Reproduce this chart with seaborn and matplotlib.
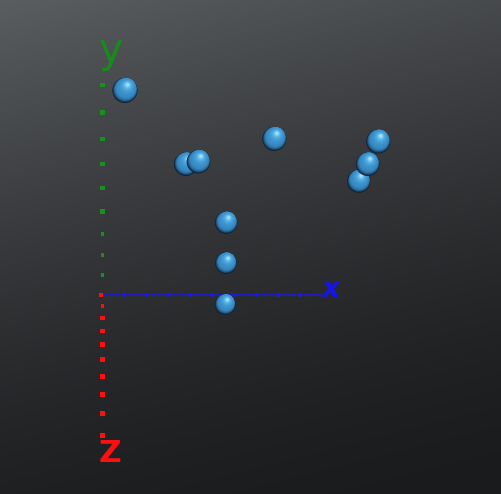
import numpy as np
import pandas as pd
import matplotlib
matplotlib.use("Agg")
import matplotlib.pyplot as plt
import seaborn as sns
from matplotlib.colors import LinearSegmentedColormap, to_hex

# ---------------- data (3D scatter points) ----------------
point_x = [0.9, 3.4, 3.9, 6.8, 10.9, 10.7, 10.5, 5.3, 5.5, 5.7]
point_y = [8.8, 6.0, 6.1, 7.0, 6.9, 6.0, 5.3, 3.5, 1.6, -0.5]
point_z = [0.0, 0.0, 0.0, 0.0, 0.0, 0.0, 0.0, 0.0, 0.0, 0.0]
axis_ticks = [1, 2, 3, 4, 5, 6, 7, 8, 9]
axis_length = 10
axis_names = ["x", "y", "Z"]

# ---------------- camera (perspective, looking slightly downward) ----------------
W, H = 502, 494
theta = np.radians(29.0)
dist = 24.8
focal = 545.6
origin_px = (101.0, 295.0)
cam = dist * np.array([0.0, np.sin(theta), np.cos(theta)])
fwd = -np.array([0.0, np.sin(theta), np.cos(theta)])
upv = np.array([0.0, np.cos(theta), -np.sin(theta)])


def project(x, y, z):
    P = np.stack([np.asarray(x, float), np.asarray(y, float), np.asarray(z, float)], -1) - cam
    depth = P @ fwd
    sx = origin_px[0] + focal * P[..., 0] / depth
    sy = origin_px[1] - focal * (P @ upv) / depth
    return sx, sy, depth


def px_to_s(diam_px):
    return (diam_px * 72.0 / 100.0) ** 2


# ---------------- figure ----------------
fig = plt.figure(figsize=(W / 100, H / 100), dpi=100)
ax = fig.add_axes([0, 0, 1, 1])
ax.set_xlim(0, W)
ax.set_ylim(H, 0)
ax.axis("off")

# background gradient
gx, gy = np.meshgrid(np.arange(W), np.arange(H))
g = np.clip((gy + 0.25 * gx) / (H + 0.25 * W), 0, 1)
w = (1 - g) ** 1.6
top = np.array([91, 94, 97]) / 255
bot = np.array([26, 27, 29]) / 255
bg = bot + (top - bot) * w[..., None]
ax.imshow(bg, extent=(0, W, H, 0), aspect="auto", zorder=0, interpolation="bilinear")

# ---------------- axes ----------------
zeros = np.zeros(len(axis_ticks))
ticks = np.array(axis_ticks, float)

# x axis line
lx, ly, _ = project([0, axis_length], [0, 0], [0, 0])
sns.lineplot(x=lx, y=ly, sort=False, color="#1a1ae0", linewidth=1.1, ax=ax, zorder=2)

tick_size = 0.17 * focal
for (tx, ty, tz), col in [((ticks, zeros, zeros), "#1a1ae8"),
                          ((zeros, ticks, zeros), "#1a901c"),
                          ((zeros, zeros, ticks), "#ff1010")]:
    sx, sy, d = project(tx, ty, tz)
    sns.scatterplot(x=sx + 1.5, y=sy, s=px_to_s(tick_size / d), color=col, marker="s",
                    linewidth=0, ax=ax, zorder=3, legend=False)

ox, oy, od = project([0], [0], [0])
sns.scatterplot(x=ox + 0.5, y=oy, s=px_to_s(3.2), color="#ff1010", marker="s", linewidth=0,
                ax=ax, zorder=3, legend=False)

# axis names
nx, ny, _ = project([axis_length], [0], [0])
ax.text(nx[0] + 0.5, ny[0] + 2, axis_names[0], color="#1414ee", fontsize=20.5,
        fontstyle="italic", fontweight="bold", ha="left", va="baseline", zorder=4)
nx, ny, _ = project([0], [axis_length], [0])
ax.text(nx[0] - 2.5, ny[0] + 6, axis_names[1], color="#178c1a", fontsize=29.5,
        ha="left", va="baseline", zorder=4)
nx, ny, _ = project([0], [0], [axis_length])
ax.text(nx[0] - 2.5, ny[0] + 2.5, axis_names[2], color="#ff1010", fontsize=22.5,
        fontweight="heavy", ha="left", va="baseline", zorder=4)

# ---------------- spheres ----------------
radius = 0.47
light_dir = np.array([0.42, -0.91])  # screen direction towards the lit side
hl_dist = 0.52                          # highlight distance from centre (in radii)

# stage 1: rim layers, internally tangent on the lit side (dark crescent below)
rim_scale = np.linspace(1.0, 0.62, 16)
rim_cmap = LinearSegmentedColormap.from_list(
    "rim", [(0.0, "#0f1d2b"), (0.12, "#1b4060"), (0.3, "#2a6d9e"),
            (0.55, "#3788c1"), (1.0, "#3d93cd")])
# stage 2: highlight layers, shrinking towards the highlight point
hl_scale = np.linspace(0.58, 0.10, 16)
hl_cmap = LinearSegmentedColormap.from_list(
    "hl", [(0.0, "#3f96cf"), (0.35, "#4aa3da"), (0.65, "#60b8e8"),
           (0.85, "#82cff4"), (1.0, "#a4e0fa")])

sx, sy, depth = project(point_x, point_y, point_z)
order = np.argsort(-depth)  # far first
rows = []
for i in order:
    r = focal * radius / depth[i]
    for j, sc in enumerate(rim_scale):
        off = (1 - sc) * r * light_dir
        rows.append({"sx": sx[i] + off[0], "sy": sy[i] + off[1],
                     "size": px_to_s(2 * r * sc),
                     "color": to_hex(rim_cmap(j / (len(rim_scale) - 1)))})
    start = (1 - rim_scale[-1]) * light_dir
    end = hl_dist * light_dir
    for j, sc in enumerate(hl_scale):
        t = j / (len(hl_scale) - 1)
        c = start + (end - start) * t
        rows.append({"sx": sx[i] + c[0] * r, "sy": sy[i] + c[1] * r,
                     "size": px_to_s(2 * r * sc),
                     "color": to_hex(hl_cmap(t))})
layers = pd.DataFrame(rows)
sns.scatterplot(data=layers, x="sx", y="sy", s=layers["size"].to_numpy(),
                c=layers["color"].tolist(), linewidth=0, ax=ax, zorder=5, legend=False)

ax.set_xlim(0, W)
ax.set_ylim(H, 0)
fig.savefig("out.png", dpi=100)
